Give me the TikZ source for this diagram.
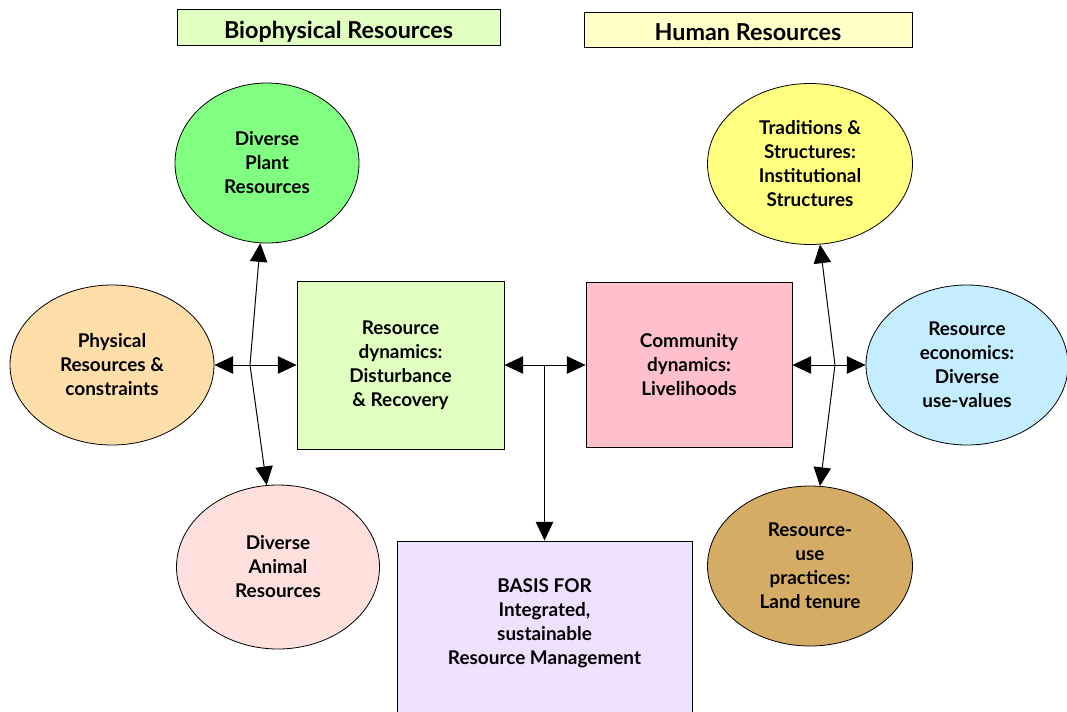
\documentclass[tikz,border=0pt]{standalone}
\usepackage{fontspec}
\setmainfont{Lato}
\usetikzlibrary{shapes.geometric,arrows.meta}
\definecolor{cplant}{HTML}{80FF80}
\definecolor{cphys}{HTML}{FFDEAA}
\definecolor{canim}{HTML}{FFE0DC}
\definecolor{cbio}{HTML}{E0FFC0}
\definecolor{ccom}{HTML}{FFC0CC}
\definecolor{cbasis}{HTML}{EEE0FF}
\definecolor{ctrad}{HTML}{FFFF80}
\definecolor{cecon}{HTML}{C4EEFF}
\definecolor{cuse}{HTML}{D4AC66}
\definecolor{chum}{HTML}{FFFFC8}
\newdimen\px \px=0.75pt
\begin{document}
\begin{tikzpicture}[x=0.75pt,y=-0.75pt,
  txt/.style={align=center,font=\bfseries\fontsize{14.2}{18}\selectfont},
  blob/.style={ellipse,draw,line width=0.6pt,inner sep=0pt,txt},
  rbox/.style={rectangle,draw,line width=0.6pt,inner sep=0pt,txt},
  hdr/.style={rectangle,draw,line width=0.6pt,inner sep=0pt,text height=16.5pt,text depth=0pt,font=\bfseries\fontsize{17.5}{20}\selectfont},
  arr/.style={-{Triangle[length=14pt,width=13pt]},line width=0.75pt}]
\useasboundingbox (0,0) rectangle (1067,711);
% headers
\node[hdr,fill=cbio,minimum width=323\px,minimum height=36\px] (hbio) at (338.5,27) {Biophysical Resources};
\node[hdr,fill=chum,minimum width=328\px,minimum height=35\px] (hhum) at (748,29.5) {Human Resources};
% left ellipses
\node[blob,fill=cplant,minimum width=184\px,minimum height=160\px] (plant) at (267,163) {Diverse\\Plant\\Resources};
\node[blob,fill=cphys,minimum width=204\px,minimum height=160\px] (phys) at (112,365) {Physical\\Resources \&\\constraints};
\node[blob,fill=canim,minimum width=203\px,minimum height=164\px] (anim) at (278,567) {Diverse\\Animal\\Resources};
% right ellipses
\node[blob,fill=ctrad,minimum width=205\px,minimum height=161\px] (trad) at (810,164) {Traditions \&\\Structures:\\Institutional\\Structures};
\node[blob,fill=cecon,minimum width=202\px,minimum height=160\px] (econ) at (967,365) {Resource\\economics:\\Diverse\\use-values};
\node[blob,fill=cuse,minimum width=205\px,minimum height=160\px] (use) at (810,566) {Resource-\\use\\practices:\\Land tenure};
% boxes
\node[rbox,fill=cbio,minimum width=207\px,minimum height=168\px] (rd) at (400.5,365) {Resource\\dynamics:\\Disturbance\\\& Recovery};
\node[rbox,fill=ccom,minimum width=206\px,minimum height=165\px] (cd) at (689,365) {Community\\dynamics:\\Livelihoods};
\node[rbox,fill=cbasis,minimum width=295\px,minimum height=200\px] (basis) at (544.5,641) {};
\node[txt] (basistxt) at (544.5,623.5) {BASIS FOR\\Integrated,\\sustainable\\Resource Management};
% hubs
\coordinate (hl) at (250,365);
\coordinate (hc) at (544.5,365);
\coordinate (hr) at (835,365);
\draw[arr] (hl) -- (plant);
\draw[arr] (hl) -- (phys);
\draw[arr] (hl) -- (rd);
\draw[arr] (hl) -- (anim);
\draw[arr] (hc) -- (rd);
\draw[arr] (hc) -- (cd);
\draw[arr] (hc) -- (basis);
\draw[arr] (hr) -- (trad);
\draw[arr] (hr) -- (cd);
\draw[arr] (hr) -- (econ);
\draw[arr] (hr) -- (use);
\end{tikzpicture}
\end{document}
